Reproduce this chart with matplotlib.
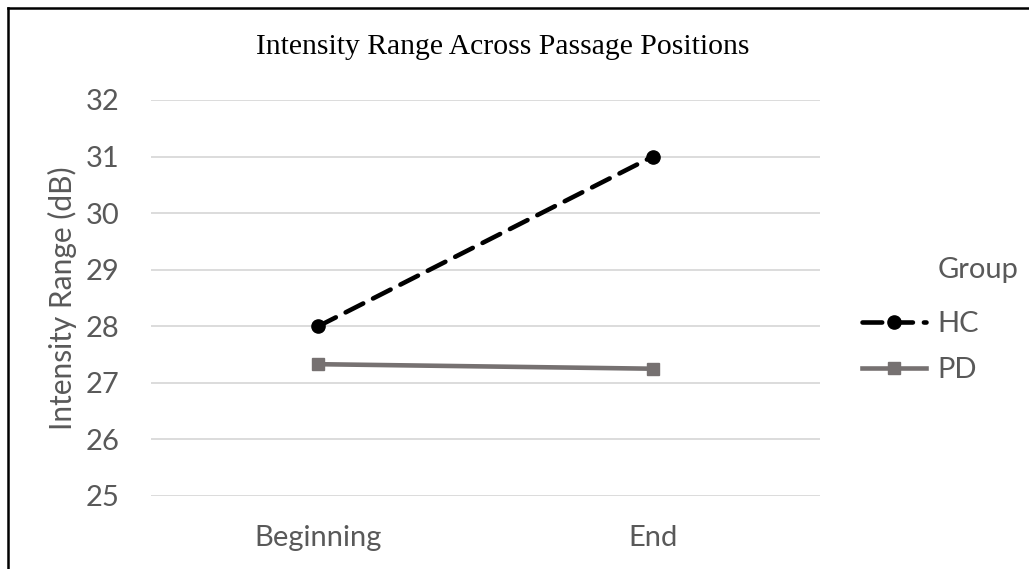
import matplotlib
matplotlib.use("Agg")
import matplotlib.pyplot as plt
from matplotlib.lines import Line2D

categories = ["Beginning", "End"]
hc_values = [28.0, 31.0]
pd_values = [27.33, 27.25]
group_labels = ["HC", "PD"]
y_ticks = [25, 26, 27, 28, 29, 30, 31, 32]

TXT = "#595959"
plt.rcParams['font.family'] = ['Lato', 'DejaVu Sans']

fig = plt.figure(figsize=(10.29, 5.69), dpi=100)
ax = fig.add_axes([151/1029, 1-496/569, (820-151)/1029, (496-100)/569])

x = [0.5, 1.5]
ax.plot(x, hc_values, color="black", lw=3.3, linestyle=(0, (4.3, 2.4)),
        dash_capstyle="round", marker="o", markersize=9.5, label=group_labels[0])
ax.plot(x, pd_values, color="#767171", lw=3.3, marker="s", markersize=9,
        label=group_labels[1])

ax.set_xlim(0, 2)
ax.set_ylim(25, 32)
ax.set_yticks(y_ticks)
ax.set_xticks(x)
ax.set_xticklabels(categories)
ax.grid(axis="y", color="#d9d9d9", lw=1.3)
ax.set_axisbelow(True)
for s in ax.spines.values():
    s.set_visible(False)
ax.tick_params(axis="both", length=0, labelsize=21, colors=TXT)
ax.tick_params(axis="y", pad=23)
ax.tick_params(axis="x", pad=21)
ax.set_ylabel("Intensity Range (dB)", fontsize=21.5, color=TXT, labelpad=6)

fig.text(503/1029, 1-47/569, "Intensity Range Across Passage Positions",
         family=["Liberation Serif"], fontsize=21.3, color="black",
         ha="center", va="center")

leg = ax.legend(loc="center left", bbox_to_anchor=(836/1029, 1-347/569),
                bbox_transform=fig.transFigure, frameon=False, fontsize=21,
                handlelength=2.2, labelspacing=0.68, handletextpad=0.38)
for t in leg.get_texts():
    t.set_color(TXT)
fig.text(938/1029, 1-270/569, "Group", fontsize=21, color=TXT,
         ha="left", va="center")

fig.add_artist(Line2D([8/1029, 8/1029], [0, 1-8/569], color="black", lw=1.8,
                      transform=fig.transFigure))
fig.add_artist(Line2D([8/1029, 1], [1-8/569, 1-8/569], color="black", lw=1.8,
                      transform=fig.transFigure))

fig.savefig("out.png", dpi=100)
